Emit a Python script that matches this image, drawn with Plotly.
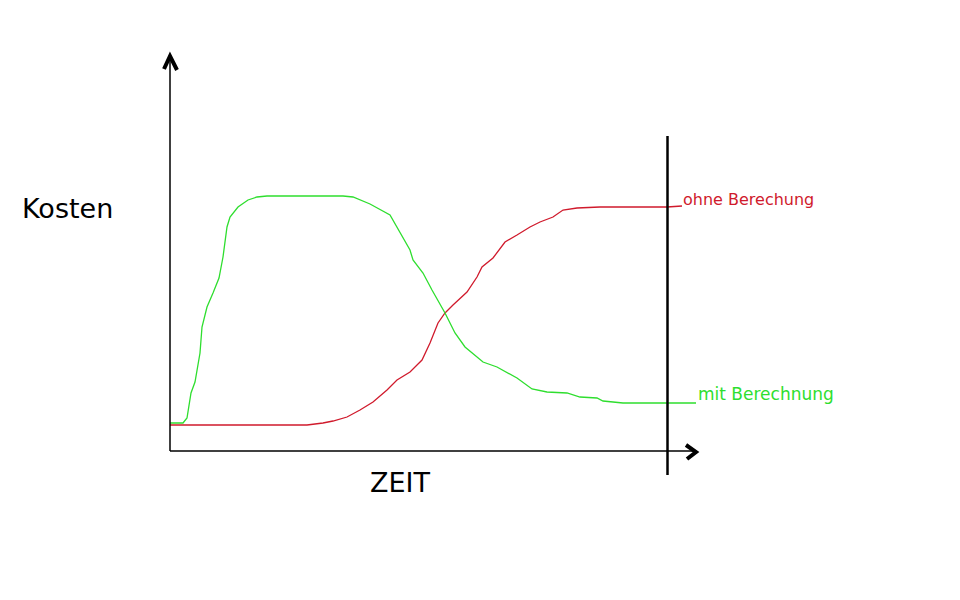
import plotly.graph_objects as go

# Zeit (x) and Kosten (y) in chart units (origin at the axis corner)
zeit_mit = [0, 13, 17, 21, 25, 30, 32, 37, 43, 49, 53, 57, 60, 68, 78, 87, 97, 173, 183, 200,
            220, 230, 240, 243, 253, 262, 275, 285, 295, 313, 327, 347, 362, 377, 397, 410,
            427, 433, 453, 497, 526]
kosten_mit = [28, 28, 33, 58, 69, 98, 124, 144, 158, 173, 194, 224, 234, 244, 251, 254, 255, 255,
              254, 247, 236, 218, 201, 191, 178, 161, 138, 118, 104, 89, 84, 73, 62, 59, 58, 54,
              53, 50, 48, 48, 48]

zeit_ohne = [0, 137, 153, 163, 177, 190, 203, 217, 227, 240, 252, 260, 268, 275, 283, 297, 307,
             312, 323, 335, 347, 360, 370, 383, 393, 407, 430, 497, 512]
kosten_ohne = [26, 26, 28, 30, 34, 41, 49, 61, 71, 79, 91, 108, 128, 138, 146, 159, 174, 184,
               193, 209, 216, 224, 229, 234, 241, 243, 244, 244, 245]

label_ohne = "ohne Berechung"
label_mit = "mit Berechnung"
x_title = "ZEIT"
y_title = "Kosten"

RED = "#d01a2c"
GREEN = "#2ede2e"
XMAX = 527
YMAX = 396
OFF = 8  # page body margin

fig = go.Figure()
fig.add_trace(go.Scatter(x=zeit_ohne, y=kosten_ohne, mode="lines",
                         line=dict(color=RED, width=1.3), hoverinfo="skip", cliponaxis=False))
fig.add_trace(go.Scatter(x=zeit_mit, y=kosten_mit, mode="lines",
                         line=dict(color=GREEN, width=1.3), hoverinfo="skip", cliponaxis=False))

def px(v):
    return v / XMAX

def py(v):
    return v / YMAX

shapes = [
    # y axis
    dict(type="line", xref="paper", yref="paper", x0=0, y0=0, x1=0, y1=py(395),
         line=dict(color="black", width=1.5)),
    # x axis
    dict(type="line", xref="paper", yref="paper", x0=0, y0=0, x1=px(526), y1=0,
         line=dict(color="black", width=1.5)),
    # y arrow head
    dict(type="path", xref="paper", yref="paper",
         path=f"M {px(-6)},{py(382)} L {px(0)},{py(395)} L {px(7)},{py(381)}",
         line=dict(color="black", width=4)),
    # x arrow head
    dict(type="path", xref="paper", yref="paper",
         path=f"M {px(516)},{py(6)} L {px(526)},{py(-1)} L {px(517)},{py(-8)}",
         line=dict(color="black", width=4)),
    # vertical end line
    dict(type="line", xref="paper", yref="paper", x0=px(497.5), y0=py(-24), x1=px(497.5), y1=py(315),
         line=dict(color="black", width=2.5)),
]

annotations = [
    dict(text=y_title, xref="paper", yref="paper", x=px(-103), y=py(242), showarrow=False,
         xanchor="center", yanchor="middle", font=dict(family="DejaVu Sans", size=27, color="black")),
    dict(text=x_title, xref="paper", yref="paper", x=px(230), y=py(-31), showarrow=False,
         xanchor="center", yanchor="middle", font=dict(family="DejaVu Sans", size=27, color="black")),
    dict(text=label_ohne, xref="paper", yref="paper", x=px(511), y=py(252), showarrow=False,
         xanchor="left", yanchor="middle", font=dict(family="DejaVu Sans", size=16, color=RED)),
    dict(text=label_mit, xref="paper", yref="paper", x=px(526), y=py(57), showarrow=False,
         xanchor="left", yanchor="middle", font=dict(family="DejaVu Sans", size=17, color=GREEN)),
]

L = 170 - OFF
T = 451 - YMAX - OFF
fig.update_layout(
    width=960, height=600,
    margin=dict(l=L, r=960 - L - XMAX, t=T, b=600 - T - YMAX),
    paper_bgcolor="white", plot_bgcolor="white",
    showlegend=False,
    xaxis=dict(range=[0, XMAX], visible=False, fixedrange=True),
    yaxis=dict(range=[0, YMAX], visible=False, fixedrange=True),
    shapes=shapes, annotations=annotations,
)

fig.write_html("out.html", config={"displayModeBar": False})
